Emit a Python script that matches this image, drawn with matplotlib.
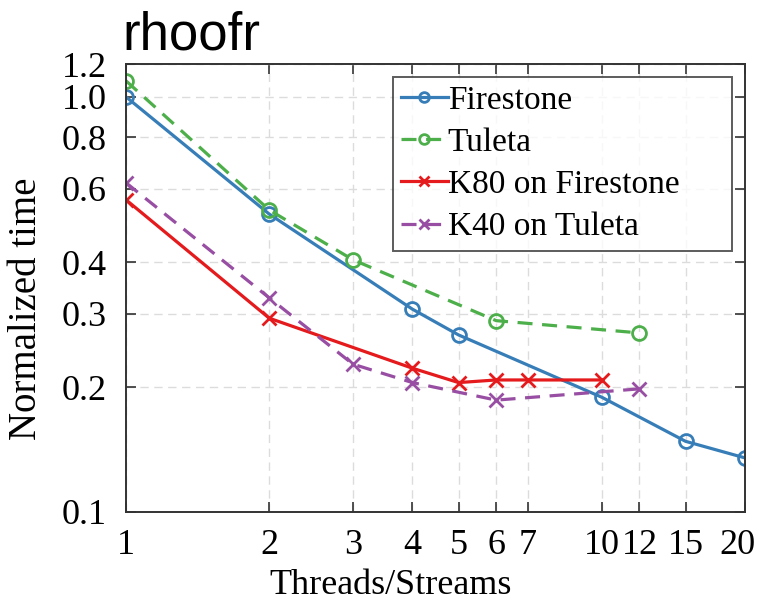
import matplotlib
matplotlib.use("Agg")
import matplotlib.pyplot as plt
import matplotlib.transforms as mtransforms
from matplotlib.ticker import FixedLocator, FixedFormatter, NullLocator

# Data
fire_x = [1, 2, 4, 5, 10, 15, 20]
fire_y = [1.0, 0.522, 0.308, 0.267, 0.189, 0.148, 0.135]
tul_x = [1, 2, 3, 6, 12]
tul_y = [1.093, 0.534, 0.405, 0.289, 0.270]
k80_x = [1, 2, 4, 5, 6, 7, 10]
k80_y = [0.565, 0.293, 0.222, 0.205, 0.208, 0.208, 0.208]
k40_x = [1, 2, 3, 4, 6, 12]
k40_y = [0.621, 0.328, 0.227, 0.205, 0.186, 0.198]

xticks = [1, 2, 3, 4, 5, 6, 7, 10, 12, 15, 20]
xticklabels = ["1", "2", "3", "4", "5", "6", "7", "10", "12", "15", "20"]
yticks = [0.1, 0.2, 0.3, 0.4, 0.6, 0.8, 1.0, 1.2]
yticklabels = ["0.1", "0.2", "0.3", "0.4", "0.6", "0.8", "1.0", "1.2"]

serif = "Liberation Serif"
plt.rcParams["font.family"] = serif

fig = plt.figure(figsize=(7.59, 6.12), dpi=100)
ax = fig.add_axes([126 / 759, 1 - 512 / 612, (745 - 126) / 759, (512 - 64) / 612])

lw = 2.3
ms = 10
ax.plot(fire_x, fire_y, "-", color="#377eb8", lw=lw, marker="o", ms=ms,
        mfc="none", mew=2, label="Firestone")
ax.plot(tul_x, tul_y, "--", color="#4daf4a", lw=lw, marker="o", ms=ms,
        mfc="none", mew=2, label="Tuleta", dashes=(4.7, 3))
ax.plot(k80_x, k80_y, "-", color="#e41a1c", lw=lw, marker="x", ms=ms,
        mew=2, label="K80 on Firestone")
ax.plot(k40_x, k40_y, "--", color="#984ea3", lw=lw, marker="x", ms=ms,
        mew=2, label="K40 on Tuleta", dashes=(4.7, 3))

ax.set_xscale("log")
ax.set_yscale("log")
ax.set_xlim(1, 20)
ax.set_ylim(0.1, 1.2)

ax.xaxis.set_major_locator(FixedLocator(xticks))
ax.xaxis.set_major_formatter(FixedFormatter(xticklabels))
ax.xaxis.set_minor_locator(NullLocator())
ax.yaxis.set_major_locator(FixedLocator(yticks))
ax.yaxis.set_major_formatter(FixedFormatter(yticklabels))
ax.yaxis.set_minor_locator(NullLocator())

ax.tick_params(direction="in", top=True, right=True, length=7, width=1.2,
               labelsize=26, color="#333333")
ax.tick_params(axis="x", pad=12)
ax.tick_params(axis="y", pad=14)
ax.grid(True, linestyle=(0, (6, 4)), color="#dcdcdc", lw=1)
for s in ax.spines.values():
    s.set_linewidth(1.4)
    s.set_color("#333333")

# nudge the last x tick label so it stays inside the canvas
lbl = ax.get_xticklabels()[-1]
lbl.set_transform(lbl.get_transform() +
                  mtransforms.ScaledTranslation(-8 / 100, 0, fig.dpi_scale_trans))

ax.set_xlabel("Threads/Streams", fontsize=26)
ax.xaxis.label.set_va("center")
ax.xaxis.set_label_coords(0.428, -0.163)
ax.set_ylabel("Normalized time", fontsize=28)
ax.yaxis.label.set_va("center")
ax.yaxis.set_label_coords(-0.160, 0.453)

leg = ax.legend(loc="upper left", bbox_to_anchor=(0.431, 0.5915, 0.548, 0.3795),
                mode="expand", fontsize=24,
                frameon=True, fancybox=False, edgecolor="#333333",
                handlelength=1.4, handletextpad=0.0, borderpad=0.25,
                labelspacing=0.35, borderaxespad=0.0, markerscale=0.7)
leg.get_frame().set_linewidth(1.4)

fig.text(122 / 759, 1 - 50 / 612, "rhoofr", fontsize=38, family="Liberation Sans",
         ha="left", va="baseline")

fig.savefig("out.png", dpi=100)
